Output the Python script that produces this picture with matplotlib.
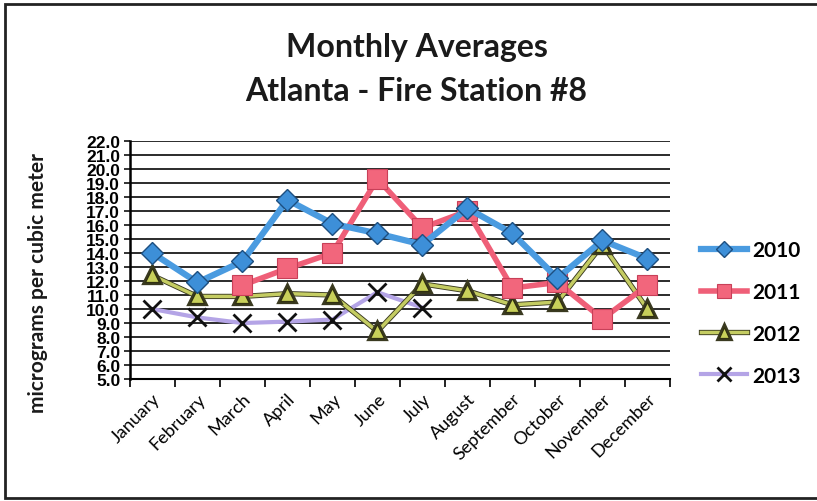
import matplotlib
matplotlib.use("Agg")
import matplotlib.pyplot as plt
import matplotlib.patheffects as pe
from matplotlib.patches import Rectangle

months = ["January", "February", "March", "April", "May", "June", "July",
          "August", "September", "October", "November", "December"]

pm_2010 = [14.0, 11.9, 13.4, 17.8, 16.1, 15.4, 14.6, 17.2, 15.4, 12.2, 14.9, 13.6]
pm_2011 = [None, None, 11.7, 12.9, 14.0, 19.3, 15.8, 17.0, 11.5, 11.9, 9.3, 11.7]
pm_2012 = [12.4, 10.9, 10.9, 11.1, 11.0, 8.4, 11.8, 11.3, 10.3, 10.5, 14.6, 10.0]
pm_2013 = [10.0, 9.4, 9.0, 9.1, 9.25, 11.2, 10.1]

y_ticks = [5.0 + i for i in range(18)]

plt.rcParams["font.family"] = ["Lato", "DejaVu Sans"]

fig = plt.figure(figsize=(8.17, 5.02), dpi=100)
ax = fig.add_axes([0.159, 0.243, 0.661, 0.474])

x_all = list(range(len(months)))


def series(vals):
    xs = [x for x, v in zip(x_all, vals) if v is not None]
    ys = [v for v in vals if v is not None]
    return xs, ys


x, y = series(pm_2010)
ax.plot(x, y, color="#4a9be0", lw=4.5, marker="D", ms=11,
        mfc="#3d8fd8", mec="#1d4f80", mew=1.0, label="2010", zorder=5)

x, y = series(pm_2011)
ax.plot(x, y, color="#ef5f78", lw=4, marker="s", ms=14,
        mfc="#f2667c", mec="#c84058", mew=0.8, label="2011", zorder=4)

x, y = series(pm_2012)
ax.plot(x, y, color="#c4cc62", lw=2.5, marker="^", ms=10,
        mfc="#c8d05a", mec="#303010", mew=0.9, label="2012", zorder=3,
        path_effects=[pe.Stroke(linewidth=3.8, foreground="#3a3a20"), pe.Normal()])

x, y = series(pm_2013)
ax.plot(x, y, color="#b4a4e6", lw=3, marker="x", ms=13,
        mec="#111111", mew=2.0, label="2013", zorder=2)

ax.set_xlim(-0.5, 11.5)
ax.set_ylim(5.0, 22.0)
ax.set_yticks(y_ticks)
ax.set_yticklabels([f"{t:.1f}" for t in y_ticks], fontsize=12.5, fontweight="bold",
                   family=["Liberation Sans Narrow", "Liberation Sans", "DejaVu Sans"])
ax.yaxis.grid(True, color="#1a1a1a", lw=1.3)
ax.set_axisbelow(True)

ax.set_xticks([i + 0.5 for i in range(-1, 12)], minor=False)
ax.set_xticklabels([])
ax.set_xticks(x_all, minor=True)
ax.set_xticklabels(months, minor=True, rotation=45, ha="right", va="top",
                   fontsize=13, rotation_mode="anchor")
ax.tick_params(axis="x", which="major", length=6, width=1.3, direction="out", color="#111")
ax.tick_params(axis="x", which="minor", length=0, pad=8)
ax.tick_params(axis="y", length=4, width=1.2, pad=3, color="#111")

for s in ["top", "right"]:
    ax.spines[s].set_visible(False)
ax.spines["left"].set_linewidth(1.8)
ax.spines["bottom"].set_linewidth(1.5)

fig.text(0.047, 0.437, "micrograms per cubic meter", rotation=90, ha="center",
         va="center", fontsize=15, fontweight="bold", color="#1a1a1a")

fig.text(0.51, 0.905, "Monthly Averages", ha="center", va="center",
         fontsize=23, fontweight="bold", color="#1a1a1a")
fig.text(0.51, 0.817, "Atlanta - Fire Station #8", ha="center", va="center",
         fontsize=23, fontweight="bold", color="#1a1a1a")

leg = fig.legend(loc="center left", bbox_to_anchor=(0.858, 0.375), frameon=False,
                 fontsize=15, handlelength=2.2, labelspacing=1.05, handletextpad=0.25,
                 borderpad=0, borderaxespad=0, markerscale=0.75)
for t in leg.get_texts():
    t.set_fontweight("bold")

fig.patches.append(Rectangle((0.006, 0.006), 0.995, 0.984, transform=fig.transFigure,
                             fill=False, lw=2.0, ec="#222222"))

fig.savefig("out.png", dpi=100)
